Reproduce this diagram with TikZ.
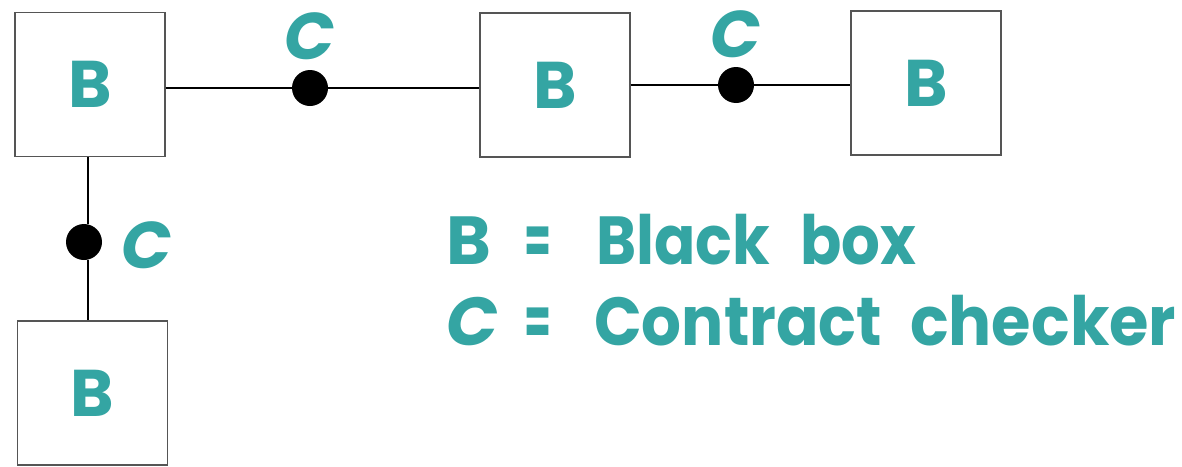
\documentclass[tikz,border=0pt]{standalone}
\usepackage{fontspec}
\setmainfont{Poppins}
\definecolor{teal1}{HTML}{34A5A3}
\definecolor{boxgray}{HTML}{555555}
\newcommand{\fitw}[2]{\resizebox{#1}{\height}{#2}}
\begin{document}
\begin{tikzpicture}[x=1pt,y=-1pt,
  bbox/.style={draw=boxgray,line width=1.2pt,minimum width=150pt,minimum height=144pt,inner sep=0pt,
    font=\fontsize{66}{66}\selectfont\bfseries,text=teal1},
  chk/.style={circle,fill=black,minimum size=36pt,inner sep=0pt},
  lbl/.style={font=\fontsize{66}{66}\selectfont\bfseries\itshape,text=teal1,inner sep=0pt},
  leg/.style={font=\fontsize{68}{68}\selectfont\bfseries,text=teal1,inner sep=0pt,anchor=base west},
  wire/.style={line width=1.2pt,black}]
\useasboundingbox (0,0) rectangle (1182,466);
\node[bbox] (b1) at (90,84.5) {B};
\node[bbox] (b2) at (555,85) {B};
\node[bbox] (b3) at (926,83) {B};
\node[bbox] (b4) at (92.5,393) {B};
\node[chk] (c1) at (310,88) {};
\node[chk] (c2) at (736,85) {};
\node[chk] (c3) at (84,242) {};
\draw[wire] (b1.east |- c1) -- (c1) -- (b2.west |- c1);
\draw[wire] (b2.east |- c2) -- (c2) -- (b3.west |- c2);
\draw[wire] (b1.south -| 88,0) -- (88,242 |- c3.north);
\draw[wire] (c3.south -| 88,0) -- (b4.north -| 88,0);
\node[lbl] (l1) at (310,36) {C};
\node[lbl] (l2) at (736,34) {C};
\node[lbl] (l3) at (147,245) {C};
\node[leg] (k1) at (446,264) {B};
\node[leg] (e1) at (524,264) {\fitw{27pt}{=}};
\node[leg] (t1a) at (596,264) {\fitw{174pt}{Black}};
\node[leg] (t1b) at (800,264) {\fitw{116pt}{box}};
\node[leg] (k2) at (446,345) {\itshape C};
\node[leg] (e2) at (524,345) {\fitw{27pt}{=}};
\node[leg] (t2a) at (594,345) {\fitw{288pt}{Contract}};
\node[leg] (t2b) at (910,345) {\fitw{266pt}{checker}};
\end{tikzpicture}
\end{document}
